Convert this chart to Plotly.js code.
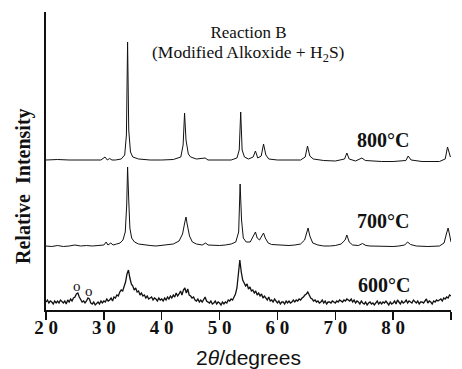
<!DOCTYPE html>
<html>
<head>
<meta charset="utf-8">
<script src="https://cdn.plot.ly/plotly-3.0.1.min.js"></script>
<style>html,body{margin:0;padding:0;background:#fff;}#chart{width:462px;height:369px;}</style>
</head>
<body>
<div id="chart"></div>
<script>
// 2θ positions and stacked intensities (arbitrary units, offset traces)
const x800 = [20,22,24,26,28,29.5,30.2,30.6,31.0,31.4,32,33,33.6,33.9,34.1,34.3,34.6,35,36,38,40,42,43.3,43.7,43.95,44.2,44.6,45,46,47.5,48,50,52,53,53.4,53.65,53.9,54.3,55,55.8,56.2,56.6,57.2,57.6,58,58.5,60,62,64,64.8,65.2,65.6,66.2,68,70,71.6,72.0,72.4,73.5,74.6,75.2,78,80,82.2,82.6,83.1,85,88,89.0,89.4,89.7,89.9];
const y800 = [150,150.5,150,150,149.5,150,153,150,151.5,150,150,151,155,175,268,180,158,153,151,150,150,150.5,153,165,197,170,156,153,151,152,150,150,150,152,160,198,160,153,151,153,159,152,154,166,155,151,150,150,150,153,164,154,151,149.5,149,151,157,151,149,152,149.5,148.5,148.5,149.5,154,150,148.5,148.5,151,163,158,153];

const x700 = [20,21,22,23,24,25,26,27,28,29,30,30.4,30.7,31.2,31.6,32.2,32.8,33.3,33.7,33.95,34.1,34.3,34.5,34.8,35.3,36,37,38,39,40,41,42,43,43.6,44.0,44.2,44.4,44.8,45.3,46,47,47.6,48,49,50,51,52,52.8,53.3,53.55,53.8,54.1,54.6,55.3,55.9,56.2,56.5,56.9,57.3,57.6,57.9,58.4,59,60,61,62,63,64,64.7,65.1,65.3,65.6,66.1,67,68,69,70,71,71.7,72.0,72.4,73,74,74.7,75.3,76,78,80,81,82,82.5,83,84,86,88,88.8,89.2,89.5,89.8,90];
const y700 = [64,63.5,64.5,63.5,64,65,64,64.5,64,64.5,65,68,65,67,65,66,67,70,78,105,143,110,82,72,68,66,65,64.5,64,64.5,65,66,69,76,88,93,86,74,68,66,65,67,65,64.5,64.5,65,66,68,78,126,90,72,68,68,74,78,72,70,74,77,72,67,65.5,65,64.5,64.5,65,66,70,80,82,74,67,65,64,64,64.5,66,70,75,68,65,64.5,66.5,64.5,64,63.5,63.5,64,65,68,65.5,64,63.5,64,67,76,82,74,68];

// 600 °C: sampled every 0.25° from 20° to 90°
const start600 = 20, step600 = 0.25;
const y600 = [
 8,10,7,9, 8,6,9,7, 9,7,10,8, 7,9,6,10, 8,11,9,12,
 13,16,17,13, 10,8,9,7, 9,12,11,7, 6,8,5,7, 8,6,9,7,
 9,8,11,9, 10,12,9,13, 12,15,14,18, 20,19,24,28, 36,40,32,26,
 24,20,22,18, 19,15,17,14, 15,12,14,11, 12,13,10,12, 11,9,12,10,
 11,9,12,10, 13,11,14,12, 15,13,17,14, 16,19,15,20, 22,17,21,15,
 14,12,13,10, 9,11,8,10, 8,10,13,9, 8,7,9,6, 7,9,6,8,
 7,5,8,6, 8,7,10,9, 11,10,13,16, 22,34,50,38, 30,27,24,26,
 21,23,19,20, 17,19,15,17, 14,16,12,14, 12,10,13,9, 10,8,11,9,
 7,9,6,8, 8,6,9,7, 9,7,8,10, 8,10,9,11, 10,12,13,15,
 16,18,15,12, 11,9,10,8, 9,7,8,10, 7,9,6,8, 8,7,9,8,
 7,9,8,10, 9,8,10,9, 11,10,9,11, 8,10,7,9, 8,6,9,7,
 6,8,5,7, 8,6,7,5, 7,9,6,8, 6,8,7,9, 7,5,8,6,
 7,9,6,10, 8,6,9,7, 8,10,7,9, 8,7,10,8, 7,9,6,8,
 8,7,9,11, 7,9,8,6, 9,8,10,9, 10,11,9,12, 11,13,12,15,
 14];

const tickVals = [20,30,40,50,60,70,80,90];
const tickText = ["2 0","3 0","4 0","5 0","6 0","7 0","8 0","9 0"];
const seriesLabels = ["800°C","700°C","600°C"];

const serif = "Liberation Serif, Times New Roman, serif";
const line = {color:"#111", width:1};

const traces = [
  {x:x800, y:y800, type:"scatter", mode:"lines", line:line, hoverinfo:"skip", name:seriesLabels[0]},
  {x:x700, y:y700, type:"scatter", mode:"lines", line:line, hoverinfo:"skip", name:seriesLabels[1]},
  {x0:start600, dx:step600, y:y600, type:"scatter", mode:"lines", line:{color:"#111", width:1.3}, hoverinfo:"skip", name:seriesLabels[2]}
];

const layout = {
  width:462, height:369,
  margin:{l:46, r:11, t:12, b:59},
  paper_bgcolor:"#fff", plot_bgcolor:"#fff",
  showlegend:false,
  title:{text:"Reaction B", font:{family:serif, size:17, color:"#111"},
         x:0.5, xref:"paper", xanchor:"center", y:1-32/369, yref:"container", yanchor:"middle"},
  xaxis:{range:[20,90], showgrid:false, zeroline:false, showline:true, linecolor:"#111", linewidth:2,
         ticks:"outside", ticklen:8, tickwidth:1.5, tickcolor:"#111",
         tickvals:tickVals, ticktext:tickText, ticklabelstandoff:-9,
         tickfont:{family:serif, size:19, color:"#111", weight:"bold"},
         title:{text:"2<i>θ</i>/degrees", font:{family:"Liberation Sans, Arial, sans-serif", size:21, color:"#111"}, standoff:22}},
  yaxis:{range:[0,298], showgrid:false, zeroline:false, showline:true, linecolor:"#111", linewidth:2,
         ticks:"", showticklabels:false},
  annotations:[
    {text:"(Modified Alkoxide + H<sub>2</sub>S)", xref:"paper", yref:"paper", x:0.5, y:(310-53.5)/298, xanchor:"center", yanchor:"middle", showarrow:false, font:{family:serif, size:17.5, color:"#111"}},
    {text:"<b>Relative  Intensity</b>", xref:"paper", yref:"paper", x:(24-46)/405, y:(310-186)/298, textangle:-90,
     xanchor:"center", yanchor:"middle", showarrow:false, font:{family:serif, size:20, color:"#111"}},
    {text:"<b>"+seriesLabels[0]+"</b>", xref:"x", yref:"y", x:78.2, y:170, showarrow:false, font:{family:serif, size:20, color:"#111"}},
    {text:"<b>"+seriesLabels[1]+"</b>", xref:"x", yref:"y", x:78.3, y:89, showarrow:false, font:{family:serif, size:20, color:"#111"}},
    {text:"<b>"+seriesLabels[2]+"</b>", xref:"x", yref:"y", x:78.5, y:25, showarrow:false, font:{family:serif, size:20, color:"#111"}},
    {text:"o", xref:"x", yref:"y", x:25.4, y:24, showarrow:false, font:{family:serif, size:15, color:"#111"}},
    {text:"o", xref:"x", yref:"y", x:27.4, y:19.3, showarrow:false, font:{family:serif, size:15, color:"#111"}}
  ]
};

Plotly.newPlot("chart", traces, layout, {staticPlot:true, displayModeBar:false});
</script>
</body>
</html>
